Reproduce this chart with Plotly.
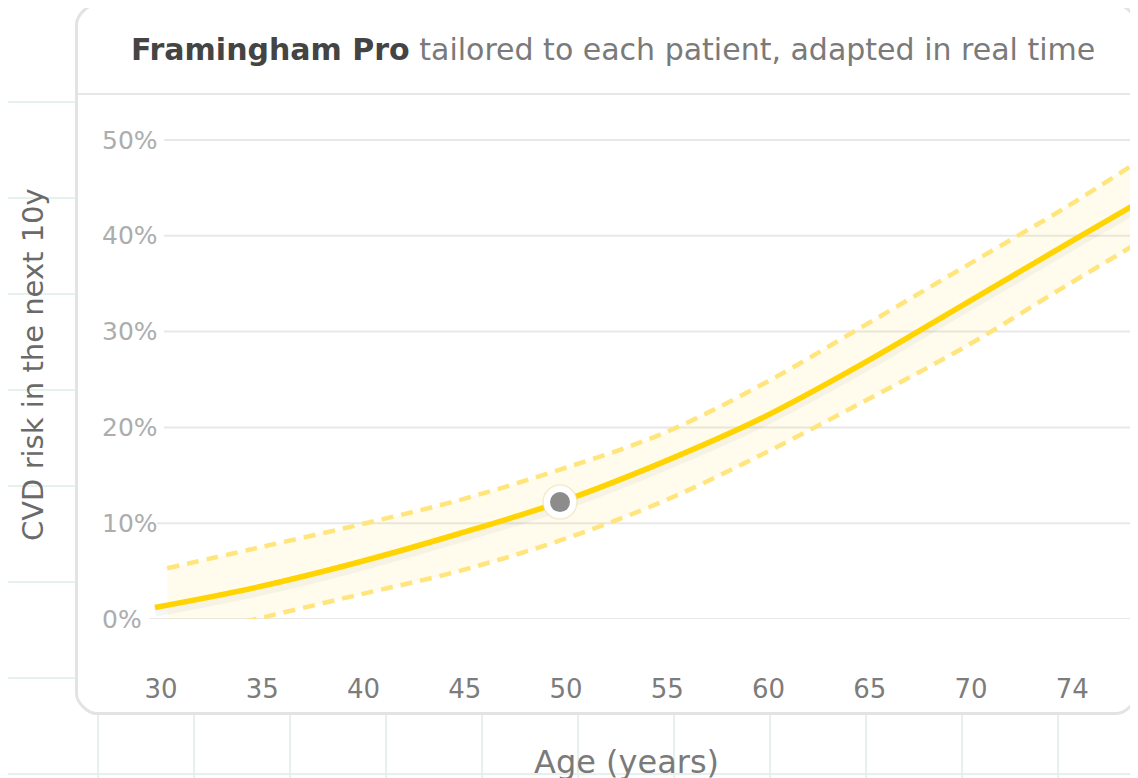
import plotly.graph_objects as go

# ---------------- data ----------------
ages_main = [30, 35, 40, 45, 50, 55, 60, 65, 70, 75, 78.5]
risk_main = [1.2, 3.3, 5.9, 8.9, 12.2, 16.3, 21.0, 26.7, 32.9, 39.1, 43.4]

ages_band = [30.6, 35, 40, 45, 50, 55, 60, 65, 70, 75, 78.5]
risk_upper = [5.3, 7.4, 9.8, 12.4, 15.6, 19.3, 24.5, 30.6, 36.8, 43.0, 47.7]
risk_lower = [-2.3, 0.0, 2.5, 5.0, 8.2, 12.2, 17.2, 22.7, 28.4, 34.8, 39.2]

patient_age = [50]
patient_risk = [12.2]

x_tickvals = [30, 35, 40, 45, 50, 55, 60, 65, 70, 75]
x_ticktext = ["30", "35", "40", "45", "50", "55", "60", "65", "70", "74"]
y_tickvals = [0, 10, 20, 30, 40, 50]
y_ticktext = ["0%", "10%", "20%", "30%", "40%", "50%"]

title_bold = "Framingham Pro"
title_rest = "tailored to each patient, adapted in real time"
x_title = "Age (years)"
y_title = "CVD risk in the next 10y"

# ---------------- layout geometry (window pixels) ----------------
OFF = 8                      # page body margin
W, H = 1130, 770             # figure size so it fits the 1138x778 window
L, R, T, B = 150, 1137, 96, 619
X0_PX, PX_PER_YEAR = 155, 20.25
PX_PER_PCT = 9.58
x_range = [30 - (X0_PX - L) / PX_PER_YEAR, 30 + (R - X0_PX) / PX_PER_YEAR]
y_range = [0, (B - T) / PX_PER_PCT]


def px(xpx):
    return (xpx - L) / (R - L)


def py(ypx):
    return (B - ypx) / (B - T)


FONT = "DejaVu Sans"
GOLD = "#FFD400"
GOLD_LIGHT = "#FFE57C"
FILL = "rgba(255,221,60,0.09)"

fig = go.Figure()

# confidence band fill
fig.add_trace(go.Scatter(x=ages_band, y=risk_upper, mode="lines",
                         line=dict(width=0, shape="spline", color=FILL),
                         hoverinfo="skip", showlegend=False))
fig.add_trace(go.Scatter(x=ages_band, y=risk_lower, mode="lines", fill="tonexty",
                         fillcolor=FILL, line=dict(width=0, shape="spline", color=FILL),
                         hoverinfo="skip", showlegend=False))
# dashed bounds
for vals in (risk_upper, risk_lower):
    fig.add_trace(go.Scatter(x=ages_band, y=vals, mode="lines",
                             line=dict(color=GOLD_LIGHT, width=4.5, dash="12px,8px", shape="spline"),
                             hoverinfo="skip", showlegend=False))
# soft shadow under main line
fig.add_trace(go.Scatter(x=ages_main, y=[v - 0.35 for v in risk_main], mode="lines",
                         line=dict(color="rgba(0,0,0,0.035)", width=12, shape="spline"),
                         hoverinfo="skip", showlegend=False))
# main curve
fig.add_trace(go.Scatter(x=ages_main, y=risk_main, mode="lines",
                         line=dict(color=GOLD, width=5.5, shape="spline"),
                         showlegend=False))
# patient point with halo
fig.add_trace(go.Scatter(x=patient_age, y=patient_risk, mode="markers",
                         marker=dict(size=34, color="white",
                                     line=dict(color="rgba(230,215,160,0.45)", width=1.5)),
                         hoverinfo="skip", showlegend=False, cliponaxis=False))
fig.add_trace(go.Scatter(x=patient_age, y=patient_risk, mode="markers",
                         marker=dict(size=20, color="#8c8c8c"),
                         showlegend=False, cliponaxis=False))

shapes = []
# page background grid
GRID_BG = "#e4f2eb"
for k in range(12):
    xv = 2 + 96 * k
    shapes.append(dict(type="line", xref="paper", yref="paper", x0=px(xv), x1=px(xv),
                       y0=py(OFF), y1=py(H + OFF), line=dict(color=GRID_BG, width=2), layer="below"))
for k in range(9):
    yv = 6 + 96 * k
    shapes.append(dict(type="line", xref="paper", yref="paper", x0=px(OFF), x1=px(W + OFF),
                       y0=py(yv), y1=py(yv), line=dict(color=GRID_BG, width=2), layer="below"))

# card with rounded corners
cl, ct, cr, cb, rad = 76.5, 4.5, 1136.5, 713.5, 20


def P(xv, yv):
    return f"{px(xv):.5f},{py(yv):.5f}"


k = 0.4477 * rad
path = (f"M {P(cl + rad, ct)} L {P(cr - rad, ct)} "
        f"C {P(cr - rad + k, ct)} {P(cr, ct + rad - k)} {P(cr, ct + rad)} "
        f"L {P(cr, cb - rad)} "
        f"C {P(cr, cb - rad + k)} {P(cr - rad + k, cb)} {P(cr - rad, cb)} "
        f"L {P(cl + rad, cb)} "
        f"C {P(cl + rad - k, cb)} {P(cl, cb - rad + k)} {P(cl, cb - rad)} "
        f"L {P(cl, ct + rad)} "
        f"C {P(cl, ct + rad - k)} {P(cl + rad - k, ct)} {P(cl + rad, ct)} Z")
shapes.append(dict(type="path", xref="paper", yref="paper", path=path,
                   fillcolor="white", line=dict(color="#e3e3e3", width=3), layer="below"))
# header separator
shapes.append(dict(type="line", xref="paper", yref="paper", x0=px(cl + 1.5), x1=px(cr - 1.5),
                   y0=py(94), y1=py(94), line=dict(color="#e6e6e6", width=2), layer="below"))

# y gridlines starting just after each label
label_left_px = 100
for val, txt in zip(y_tickvals, y_ticktext):
    wtxt = sum(8 if c == "1" else (22 if c == "%" else 15) for c in txt)
    shapes.append(dict(type="line", xref="paper", yref="y",
                       x0=px(label_left_px + wtxt + 12), x1=px(cr - 1.5), y0=val, y1=val,
                       line=dict(color="#e8e8e8", width=2), layer="below"))

annotations = []
for val, txt in zip(y_tickvals, y_ticktext):
    annotations.append(dict(text=txt, xref="paper", yref="y", x=px(label_left_px), y=val,
                            xanchor="left", yanchor="middle", showarrow=False,
                            font=dict(family=FONT, size=25, color="#adadad")))
annotations.append(dict(
    text=f"<b>{title_bold}</b> <span style='color:#7a7a7a'>{title_rest}</span>",
    xref="paper", yref="paper", x=px(613), y=py(50), xanchor="center", yanchor="middle",
    showarrow=False, font=dict(family=FONT, size=30, color="#444444")))
annotations.append(dict(text=y_title, xref="paper", yref="paper", x=px(33), y=py(365),
                        xanchor="center", yanchor="middle", textangle=-90, showarrow=False,
                        font=dict(family=FONT, size=29, color="#6a6a6a")))
annotations.append(dict(text=x_title, xref="paper", yref="paper", x=px(626), y=py(762),
                        xanchor="center", yanchor="middle", showarrow=False,
                        font=dict(family=FONT, size=32, color="#7a7a7a")))

fig.update_layout(
    width=W, height=H,
    margin=dict(l=L - OFF, r=W + OFF - R, t=T - OFF, b=H + OFF - B, pad=0),
    paper_bgcolor="white", plot_bgcolor="rgba(0,0,0,0)",
    shapes=shapes, annotations=annotations, showlegend=False,
    xaxis=dict(range=x_range, tickvals=x_tickvals, ticktext=x_ticktext, showgrid=False,
               zeroline=False, showline=False, ticks="", ticklabelstandoff=52,
               ticklabelshift=6, tickfont=dict(family=FONT, size=26, color="#7c7c7c"),
               fixedrange=True),
    yaxis=dict(range=y_range, showgrid=False, zeroline=False, showline=False,
               showticklabels=False, ticks="", fixedrange=True),
)

fig.write_html("out.html")
